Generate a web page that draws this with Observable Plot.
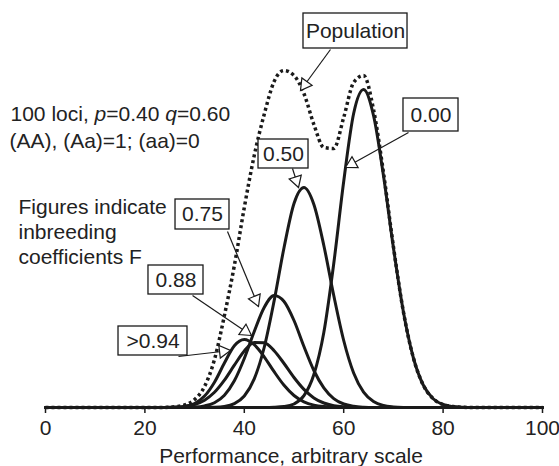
<!DOCTYPE html>
<html><head><meta charset="utf-8">
<script src="https://cdn.jsdelivr.net/npm/d3@7"></script>
<script src="https://cdn.jsdelivr.net/npm/@observablehq/plot@0.6"></script>
<style>
html,body{margin:0;padding:0;background:#fff;}
</style>
</head><body><div id="chart"></div>
<script>
// ---- data (heights in arbitrary frequency units) ----
const performance = [0, 20,22,24,26,28,30,32,34,36,38,40,42,44,46,48,50,52,54,56,58,60,62,64,66,68,70,72,74,76,78,80,82,84,86, 100];
const population = [0, 0,0,0.1,0.7,2.5,8,21,48,92,142,200,252,293,326,337,332,314,283,260,259,290,325,332,298,235,161,96,50,22.5,8.8,3,0.9,0.2,0, 0];
const f000 = [0, 0,0,0,0,0,0,0,0,0,0,0,0,0,0.2,0.9,3.5,11.8,33,75,144,226,294,318,292,232,160,96,50,22.5,8.8,3,0.9,0.2,0, 0];
const f050 = [0, 0,0,0,0,0,0,0.1,0.3,1.1,3.9,11.5,28.6,60,106.6,160,204,220,203,162,112,67,34.5,15.4,6,2,0.6,0.1,0,0,0,0,0,0,0, 0];
const f075 = [0, 0,0,0,0,0.1,0.4,1.6,4.8,12.3,26.7,49,76,100,112,106,87,61,37,19.6,8.9,3.5,1.2,0.3,0,0,0,0,0,0,0,0,0,0,0, 0];
const f088 = [0, 0,0,0.1,0.3,1.1,3,7.3,15.2,27.3,42.3,56.5,65,64.8,56.8,44,30,18.1,9.6,4.5,1.9,0.7,0.2,0,0,0,0,0,0,0,0,0,0,0,0, 0];
const f094 = [0, 0,0,0,0.3,1.1,4,11.4,25.3,44.5,61.8,68,62.8,50.7,35.8,22.2,12,5.7,2.4,0.9,0.3,0,0,0,0,0,0,0,0,0,0,0,0,0,0, 0];

const xTicks = [0, 20, 40, 60, 80, 100];
const xLabel = "Performance, arbitrary scale";
const noteLine1 = "100 loci, p=0.40 q=0.60";
const noteLine2 = "(AA), (Aa)=1; (aa)=0";
const legendNote = "Figures indicate\ninbreeding\ncoefficients F";

// callouts: label, box (x1,x2,y1,y2), arrow start (ax,ay) and tip (tx,ty), in data units
const calloutLabels = ["Population", "0.00", "0.50", "0.75", "0.88", ">0.94"];
const calloutBoxes = [[51.91,72.84,359,394],[72.03,83.10,276,309],[42.86,52.92,239,268],[26.16,37.02,178,208],[20.72,31.79,113,142],[14.69,28.57,52,81]];
const calloutFrom = [[57.34,358],[73.04,275],[49.70,239],[36.62,176],[29.58,112],[26.76,51]];
const calloutTo = [[51.31,317],[60.36,240],[50.91,220],[42.86,101],[41.45,72],[37.22,57]];

// ---- layout ----
const W = 559, H = 466, ML = 45, MR = 17, MT = 0, MB = 59;
const INK = "#1a1a1a";
const FONT = "'Liberation Sans', Arial, Helvetica, sans-serif";

const rows = (vals) => performance.map((x, i) => ({x, v: vals[i]}));
const curves = [f000, f050, f075, f088, f094];

const sx = Plot.scale({x: {domain: [0, 100], range: [ML, W - MR]}});
const sy = Plot.scale({y: {domain: [0, H - MB], range: [H - MB, MT]}});

const boxes = calloutLabels.map((label, i) => {
  const [x1, x2, y1, y2] = calloutBoxes[i];
  return {label, x1, x2, y1, y2, cx: (x1 + x2) / 2, cy: (y1 + y2) / 2};
});
const arrows = calloutLabels.map((label, i) => ({
  ax: calloutFrom[i][0], ay: calloutFrom[i][1], tx: calloutTo[i][0], ty: calloutTo[i][1]
}));
const headR = 4.7;
const heads = arrows.map(a => {
  const x0 = sx.apply(a.ax), y0 = sy.apply(a.ay), x1 = sx.apply(a.tx), y1 = sy.apply(a.ty);
  const L = Math.hypot(x1 - x0, y1 - y0), ux = (x1 - x0) / L, uy = (y1 - y0) / L;
  const k = 1.555 * headR;
  return {x: sx.invert(x1 - ux * k), y: sy.invert(y1 - uy * k), rotate: Math.atan2(ux, -uy) * 180 / Math.PI};
});

const plot = Plot.plot({
  width: W, height: H,
  marginLeft: ML, marginRight: MR, marginTop: MT, marginBottom: MB,
  style: {fontFamily: FONT, fontSize: "21px", color: "#222", background: "white", overflow: "visible"},
  x: {domain: [0, 100]},
  y: {domain: [0, H - MB], axis: null},
  marks: [
    Plot.ruleY([0], {stroke: INK, strokeWidth: 3}),
    Plot.axisX({ticks: xTicks, tickSize: 6, tickPadding: 7, fontSize: 21, label: null, stroke: INK, strokeWidth: 1.5, fill: "#222", tickFormat: d => String(d)}),
    Plot.line(rows(population), {x: "x", y: "v", curve: "monotone-x", stroke: INK, strokeWidth: 3.5, strokeDasharray: "3,3", strokeLinecap: "butt"}),
    ...curves.map(c => Plot.line(rows(c), {x: "x", y: "v", curve: "monotone-x", stroke: INK, strokeWidth: 3})),
    Plot.link(arrows, {x1: "ax", y1: "ay", x2: "tx", y2: "ty", stroke: INK, strokeWidth: 1.2}),
    Plot.dot(heads, {x: "x", y: "y", symbol: "triangle", r: headR, rotate: "rotate", fill: "white", stroke: INK, strokeWidth: 1.2}),
    Plot.rect(boxes, {x1: "x1", x2: "x2", y1: "y1", y2: "y2", fill: "white", stroke: INK, strokeWidth: 1.3}),
    Plot.text(boxes, {x: "cx", y: "cy", text: "label", fontSize: 21, fill: "#222"}),
    Plot.text([noteLine1], {x: -7.04, y: 287, text: d => d, textAnchor: "start", lineAnchor: "bottom", fontSize: 21, fill: "#222"}),
    Plot.text([noteLine2], {x: -7.24, y: 260, text: d => d, textAnchor: "start", lineAnchor: "bottom", fontSize: 21, fill: "#222"}),
    Plot.text([legendNote], {x: -5.43, y: 144, text: d => d, textAnchor: "start", lineAnchor: "bottom", lineHeight: 1.19, fontSize: 21, fill: "#222"}),
    Plot.text([xLabel], {x: 49.4, y: -55, text: d => d, textAnchor: "middle", lineAnchor: "bottom", fontSize: 21, fill: "#222"})
  ]
});

// italicise the allele-frequency symbols p and q
d3.select(plot).selectAll("text").filter(function() { return this.textContent === noteLine1; }).each(function() {
  const t = d3.select(this);
  t.text(null);
  const parts = [["100 loci, ", false], ["p", true], ["=0.40 ", false], ["q", true], ["=0.60", false]];
  parts.forEach(([s, it]) => { const ts = t.append("tspan").text(s); if (it) ts.attr("font-style", "italic"); });
});

document.getElementById("chart").appendChild(plot);
</script>
</body></html>
